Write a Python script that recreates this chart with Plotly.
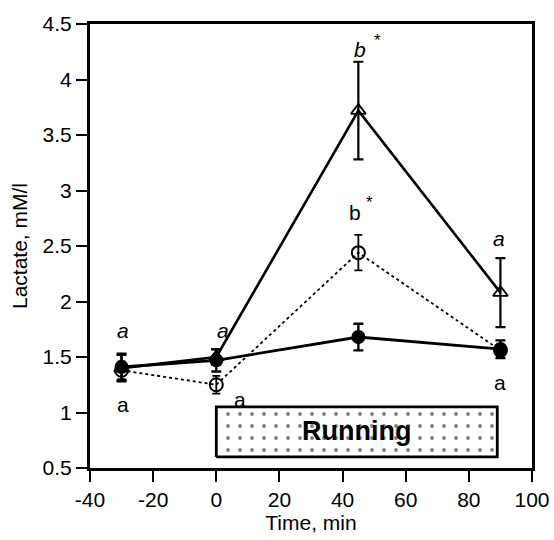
import plotly.graph_objects as go

time = [-30, 0, 45, 90]
filled_vals = [1.41, 1.47, 1.68, 1.57]
filled_err = [0.12, 0.10, 0.12, 0.08]
tri_vals = [1.40, 1.50, 3.72, 2.08]
tri_err = [0.12, 0.07, 0.44, 0.31]
open_vals = [1.38, 1.25, 2.44, 1.56]
open_err = [0.08, 0.08, 0.16, 0.06]

run_x = [0, 89, 89, 0, 0]
run_y = [0.6, 0.6, 1.05, 1.05, 0.6]

ann_x = [-29.5, -29.5, 2, 7.5, 45.5, 44, 89.7, 90]
ann_y = [1.74, 1.07, 1.74, 1.12, 4.27, 2.80, 2.57, 1.27]
ann_t = ["<i>a</i>", "a", "<i>a</i>", "a", "<i>b</i>", "b", "<i>a</i>", "a"]
star_x = [51.2, 48.5]
star_y = [4.35, 2.89]

x_ticks = [-40, -20, 0, 20, 40, 60, 80, 100]
x_labels = ["-40", "-20", "0", "20", "40", "60", "80", "100"]
y_ticks = [0.5, 1, 1.5, 2, 2.5, 3, 3.5, 4, 4.5]
y_labels = ["0.5", "1", "1.5", "2", "2.5", "3", "3.5", "4", "4.5"]

font = "Liberation Sans, Arial, sans-serif"
fig = go.Figure()

fig.add_trace(go.Scatter(
    x=run_x, y=run_y, mode="lines", fill="toself",
    fillcolor="white", line=dict(color="black", width=2.8),
    fillpattern=dict(shape=".", fgcolor="black", bgcolor="white", size=12, solidity=0.08),
    hoverinfo="skip", showlegend=False))

fig.add_trace(go.Scatter(
    x=time, y=open_vals, mode="lines+markers",
    line=dict(color="black", width=1.8, dash="dot"),
    marker=dict(symbol="circle-open", size=13, color="black", line=dict(width=2)),
    error_y=dict(type="data", array=open_err, color="black", thickness=1.8, width=4),
    showlegend=False))

fig.add_trace(go.Scatter(
    x=time, y=tri_vals, mode="lines+markers",
    line=dict(color="black", width=2.6),
    marker=dict(symbol="triangle-up-open", size=13, color="black", line=dict(width=1.8)),
    error_y=dict(type="data", array=tri_err, color="black", thickness=2.2, width=5),
    showlegend=False))

fig.add_trace(go.Scatter(
    x=time, y=filled_vals, mode="lines+markers",
    line=dict(color="black", width=2.8),
    marker=dict(symbol="circle", size=14, color="black"),
    error_y=dict(type="data", array=filled_err, color="black", thickness=2.4, width=5),
    showlegend=False))

fig.add_annotation(x=44.5, y=0.83, text="<b>Running</b>", showarrow=False,
                   font=dict(family=font, size=27, color="black"))

for x, y, t in zip(ann_x, ann_y, ann_t):
    fig.add_annotation(x=x, y=y, text=t, showarrow=False,
                       font=dict(family=font, size=21, color="black"))
for x, y in zip(star_x, star_y):
    fig.add_annotation(x=x, y=y, text="*", showarrow=False,
                       font=dict(family=font, size=17, color="black"))

fig.update_layout(
    width=554, height=540,
    margin=dict(l=90, r=22, t=24, b=72, autoexpand=False),
    paper_bgcolor="white", plot_bgcolor="white",
    font=dict(family=font, size=20, color="black"),
    xaxis=dict(range=[-40, 100], tickvals=x_ticks, ticktext=x_labels,
               ticks="outside", ticklen=11, tickwidth=2, tickcolor="black",
               showline=True, linecolor="black", linewidth=3, mirror=True,
               showgrid=False, zeroline=False, automargin=False,
               title=dict(text="Time, min", font=dict(size=21), standoff=6),
               tickfont=dict(size=21)),
    yaxis=dict(range=[0.5, 4.5], tickvals=y_ticks, ticktext=y_labels,
               ticks="outside", ticklen=11, tickwidth=2, tickcolor="black",
               showline=True, linecolor="black", linewidth=3, mirror=True,
               showgrid=False, zeroline=False, automargin=False,
               title=dict(text="Lactate, mM/l", font=dict(size=21), standoff=10),
               tickfont=dict(size=21)),
)

fig.write_html(
    "out.html",
    config={"displayModeBar": False},
    post_script="document.body.style.margin='0';document.body.style.overflow='hidden';",
)
